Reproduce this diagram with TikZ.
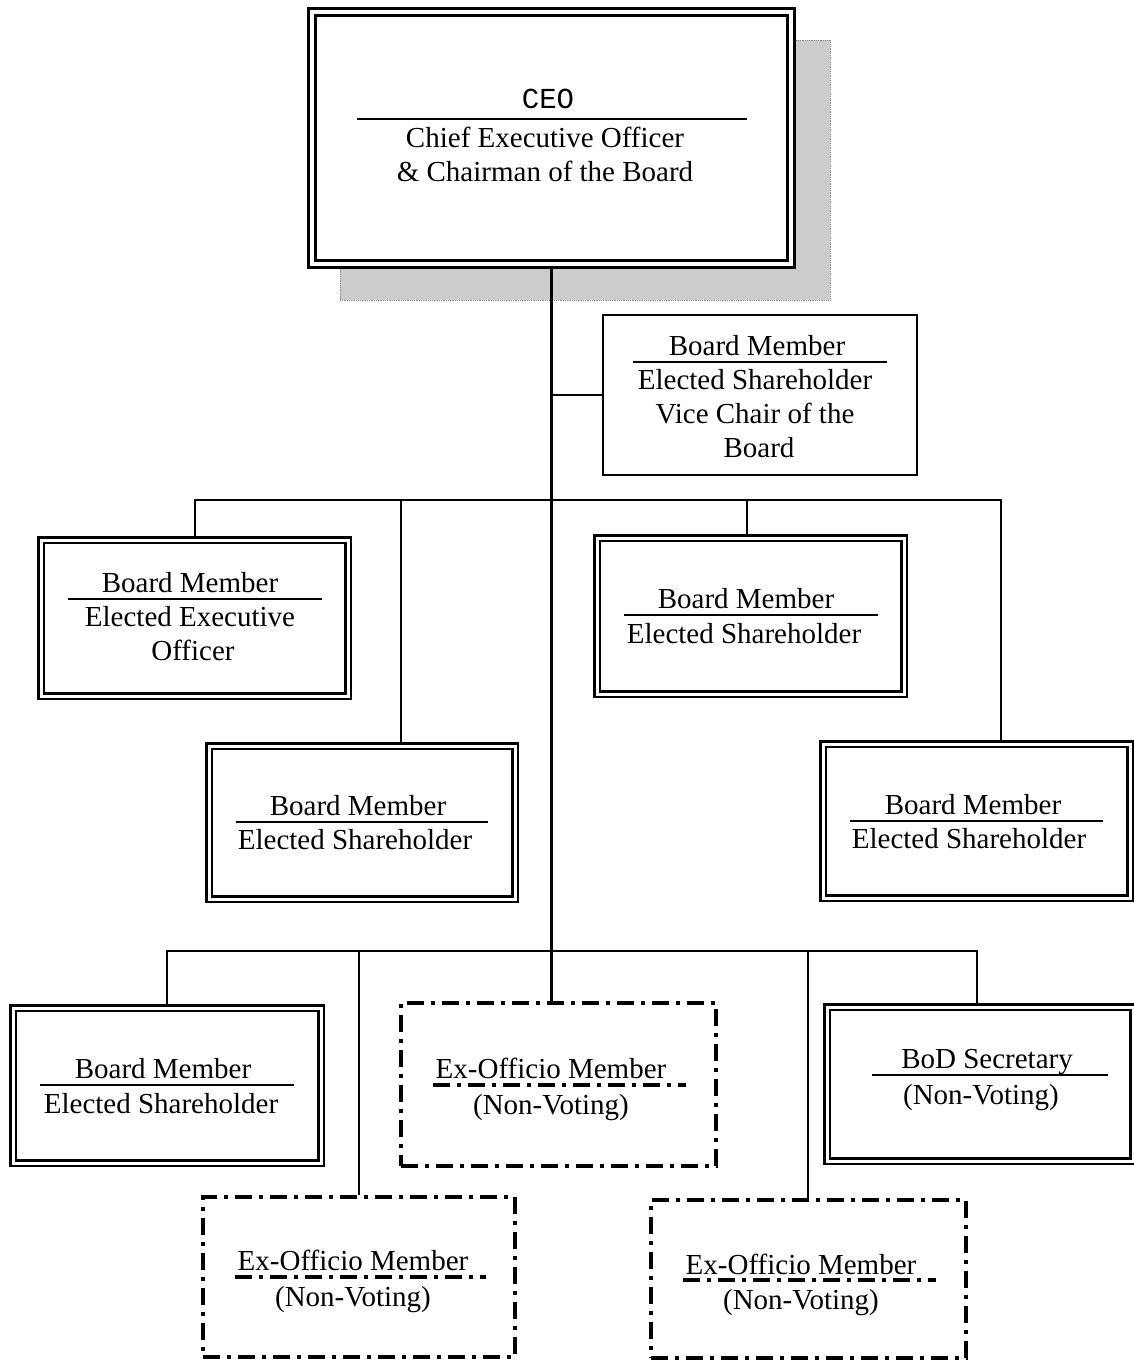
\documentclass[tikz,border=0pt]{standalone}
\usepackage{fontspec}
\setmainfont{Liberation Serif}
\setmonofont{Liberation Mono}
\begin{document}
\begin{tikzpicture}[x=1pt,y=-1pt,
  lbl/.style={anchor=base,inner sep=0pt,font=\fontsize{29}{34}\selectfont},
  mono/.style={anchor=base,inner sep=0pt,font=\fontsize{29}{34}\selectfont\ttfamily},
  dbox/.style={draw,double,line width=2.2pt,double distance=3pt,fill=white,inner sep=0pt},
  sbox/.style={draw,line width=2.5pt,fill=white,inner sep=0pt},
  xbox/.style={draw,line width=4pt,dash pattern=on 17pt off 7pt on 4pt off 7pt,inner sep=0pt},
  shade/.style={draw=black!45,densely dotted,line width=0.8pt,fill=black!20,inner sep=0pt},
  rule/.style={line width=2pt},
  xrule/.style={line width=3.5pt,dash pattern=on 17pt off 7pt on 4pt off 7pt},
  conn/.style={line width=2pt},
  trunk/.style={line width=3.5pt}]
\useasboundingbox (0,0) rectangle (1133,1360);

% chief executive box with its shadow
\node[shade,minimum width=490pt,minimum height=260pt] (ceoshadow) at (585,170) {};
\node[dbox,line width=3pt,double distance=4pt,minimum width=479pt,minimum height=252pt] (ceo) at (551.5,138) {};
\node[mono] (ceoT) at (548,108) {CEO};
\draw[rule] (357,119) -- (747,119);
\node[lbl] (ceo1) at (545,147) {Chief Executive Officer};
\node[lbl] (ceo2) at (545,181) {\& Chairman of the Board};

% vice chair
\node[sbox,minimum width=314pt,minimum height=160pt] (vice) at (760,395) {};
\node[lbl] (vice1) at (757,355) {Board Member};
\draw[rule] (633,362) -- (887,362);
\node[lbl] (vice2) at (755,389) {Elected Shareholder};
\node[lbl] (vice3) at (755,423) {Vice Chair of the};
\node[lbl] (vice4) at (759,457) {Board};

% first row of board members
\node[dbox,minimum width=307pt,minimum height=156pt] (bmA) at (194.5,618) {};
\node[lbl] (bmA1) at (190,592) {Board Member};
\draw[rule] (68,599) -- (322,599);
\node[lbl] (bmA2) at (190,626) {Elected Executive};
\node[lbl] (bmA3) at (193,660) {Officer};

\node[dbox,minimum width=307pt,minimum height=156pt] (bmB) at (750.5,616) {};
\node[lbl] (bmB1) at (746,608) {Board Member};
\draw[rule] (624,615) -- (878,615);
\node[lbl] (bmB2) at (744,643) {Elected Shareholder};

\node[dbox,minimum width=306pt,minimum height=153pt] (bmC) at (362,822.5) {};
\node[lbl] (bmC1) at (358,815) {Board Member};
\draw[rule] (236,822) -- (488,822);
\node[lbl] (bmC2) at (355,849) {Elected Shareholder};

\node[dbox,minimum width=307pt,minimum height=154pt] (bmD) at (976.5,821) {};
\node[lbl] (bmD1) at (973,814) {Board Member};
\draw[rule] (850,821) -- (1103,821);
\node[lbl] (bmD2) at (969,848) {Elected Shareholder};

% second row
\node[dbox,minimum width=308pt,minimum height=155pt] (bmE) at (167,1085.5) {};
\node[lbl] (bmE1) at (163,1078) {Board Member};
\draw[rule] (40,1085) -- (294,1085);
\node[lbl] (bmE2) at (161,1113) {Elected Shareholder};

\node[xbox,minimum width=315pt,minimum height=163pt] (exm) at (558.5,1084.5) {};
\node[lbl] (exm1) at (551,1078) {Ex-Officio Member};
\draw[xrule] (433,1085) -- (686,1085);
\node[lbl] (exm2) at (551,1114) {(Non-Voting)};

\node[dbox,minimum width=306pt,minimum height=154pt] (bod) at (980,1084) {};
\node[lbl] (bod1) at (987,1068) {BoD Secretary};
\draw[rule] (872,1075) -- (1108,1075);
\node[lbl] (bod2) at (981,1104) {(Non-Voting)};

\node[xbox,minimum width=312pt,minimum height=160pt] (exl) at (359,1277) {};
\node[lbl] (exl1) at (353,1270) {Ex-Officio Member};
\draw[xrule] (235,1277) -- (486,1277);
\node[lbl] (exl2) at (353,1306) {(Non-Voting)};

\node[xbox,minimum width=315pt,minimum height=158pt] (exr) at (808.5,1279) {};
\node[lbl] (exr1) at (801,1274) {Ex-Officio Member};
\draw[xrule] (683,1280) -- (936,1280);
\node[lbl] (exr2) at (801,1309) {(Non-Voting)};

% connectors
\draw[trunk] (ceo.south) -- (ceo.south |- exm.north);
\draw[conn] (ceo.south |- vice.west) -- (vice.west);

\coordinate (b1L) at (195,500);
\coordinate (b1R) at (1001,500);
\coordinate (c1) at (401,500);
\coordinate (c2) at (747,500);
\draw[conn] (bmA.north -| b1L) |- (b1R) -- (b1R |- bmD.north);
\draw[conn] (c1) -- (c1 |- bmC.north);
\draw[conn] (c2) -- (c2 |- bmB.north);

\coordinate (b2L) at (167,951);
\coordinate (b2R) at (977,951);
\coordinate (c3) at (359,951);
\coordinate (c4) at (808,951);
\draw[conn] (bmE.north -| b2L) |- (b2R) -- (b2R |- bod.north);
\draw[conn] (c3) -- (c3 |- exl.north);
\draw[conn] (c4) -- (c4 |- exr.north);
\end{tikzpicture}
\end{document}
